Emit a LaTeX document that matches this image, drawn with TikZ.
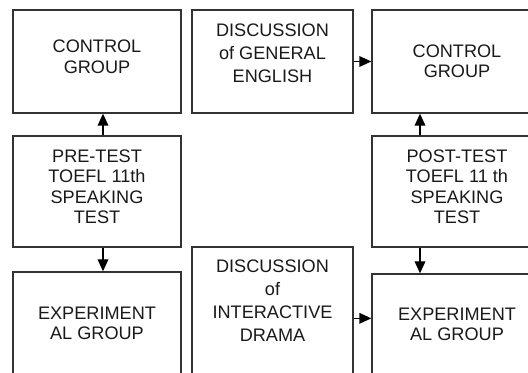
\documentclass[tikz,border=0pt]{standalone}
\usepackage{fontspec}
\setmainfont{Liberation Sans}
\usepackage{xcolor}
\usepackage{tikz}
\usetikzlibrary{arrows.meta, positioning}
\definecolor{boxgray}{RGB}{51, 51, 51}
\definecolor{inkgray}{RGB}{25, 25, 25}

\begin{document}
\begin{tikzpicture}[
    x=0.75pt, y=0.75pt,
    every node/.style={font=\fontsize{13.6}{15.4}\selectfont},
    group/.style={rectangle, draw=boxgray, line width=1pt, minimum width=126pt, minimum height=77.25pt, inner sep=0pt},
    testbox/.style={group, minimum height=83.25pt},
    boxtext/.style={inner sep=0pt, align=center, text=inkgray},
    widetext/.style={boxtext, font=\fontsize{13.6}{17.25}\selectfont},
    arrow/.style={-{Triangle[length=9pt, width=8pt]}, line width=1pt}
]
\useasboundingbox (0,0) rectangle (528,-373);
\clip (0,0) rectangle (528,-373);
% boxes
\node[group] (ctrlA) at (97,-61.5) {};
\node[testbox, below=16.25pt of ctrlA] (pretest) {};
\node[group, below=17.75pt of pretest] (expA) {};
\node[group, minimum width=120.75pt, right=7.25pt of ctrlA] (discG) {};
\node[group, minimum width=120.75pt, minimum height=97.5pt, below=99.5pt of discG] (discD) {};
\node[group, minimum width=127.5pt, right=13.25pt of discG] (ctrlB) {};
\node[testbox, minimum width=127.5pt, below=16.25pt of ctrlB] (posttest) {};
\node[group, minimum width=127.5pt, below=19.25pt of posttest] (expB) {};
% texts
\node[boxtext, below=22.7pt of ctrlA.north] (ctrlAtext) {CONTROL\\GROUP};
\node[boxtext, below=10.5pt of pretest.north] (pretesttext) {PRE-TEST\\TOEFL 11th\\SPEAKING\\TEST};
\node[boxtext, below=26.25pt of expA.north] (expAtext) {EXPERIMENT\\AL GROUP};
\node[widetext, below=10.5pt of discG.north] (discGtext) {DISCUSSION\\of GENERAL\\ENGLISH};
\node[widetext, below=9.75pt of discD.north] (discDtext) {DISCUSSION\\of\\INTERACTIVE\\DRAMA};
\node[boxtext, below=26.25pt of ctrlB.north] (ctrlBtext) {CONTROL\\GROUP};
\node[boxtext, below=10.5pt of posttest.north] (posttesttext) {POST-TEST\\TOEFL 11 th\\SPEAKING\\TEST};
\node[boxtext, below=25.5pt of expB.north] (expBtext) {EXPERIMENT\\AL GROUP};
% arrows
\draw[arrow] ([xshift=4.5pt]pretest.north) -- ([xshift=4.5pt]ctrlA.south);
\draw[arrow] ([xshift=4.5pt]pretest.south) -- ([xshift=4.5pt]expA.north);
\draw[arrow] (discG) -- (ctrlB);
\coordinate (dramaout) at ([yshift=-54pt]discD.north east);
\draw[arrow] (dramaout) -- (dramaout -| expB.west);
\draw[arrow] ([xshift=-27.75pt]posttest.north) -- ([xshift=-27.75pt]ctrlB.south);
\draw[arrow] ([xshift=-27.75pt]posttest.south) -- ([xshift=-27.75pt]expB.north);
\end{tikzpicture}
\end{document}
